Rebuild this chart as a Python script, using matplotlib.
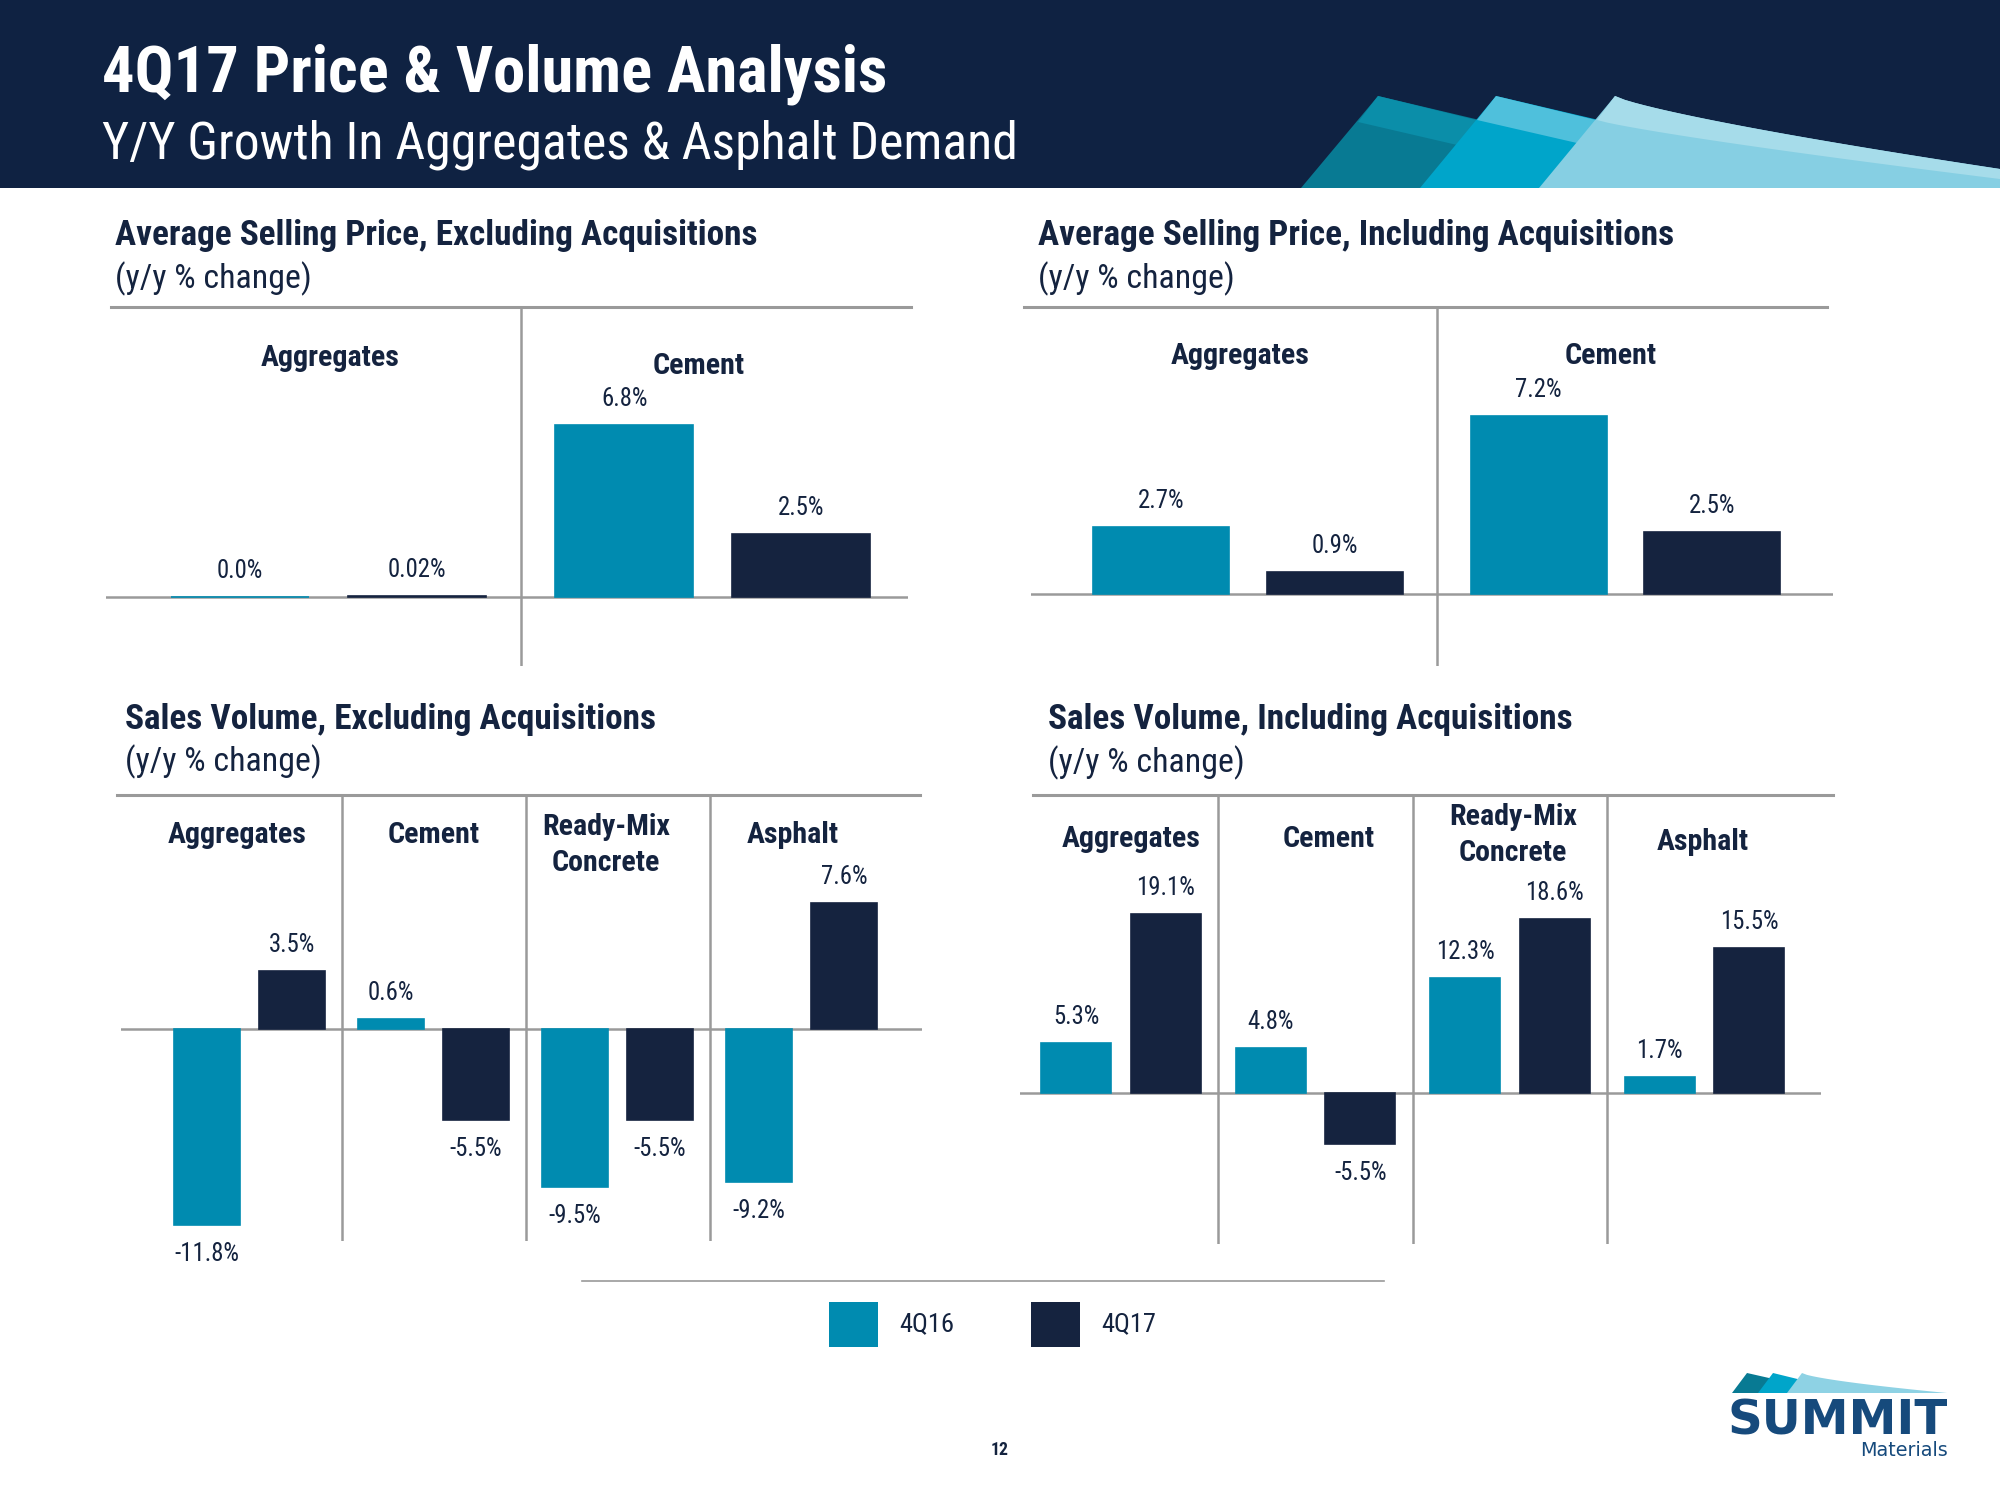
import matplotlib
matplotlib.use('Agg')
import numpy as np
import matplotlib.pyplot as plt
from matplotlib import font_manager
from matplotlib.patches import Polygon, Rectangle

# Dados do gráfico (variação a/a em %)
series = ['4Q16', '4Q17']

p1_cats = ['Aggregates', 'Cement']
p1_4q16 = [0.0, 6.8]
p1_4q17 = [0.02, 2.5]
p1_lbl_4q16 = ['0.0%', '6.8%']
p1_lbl_4q17 = ['0.02%', '2.5%']

p2_cats = ['Aggregates', 'Cement']
p2_4q16 = [2.7, 7.2]
p2_4q17 = [0.9, 2.5]
p2_lbl_4q16 = ['2.7%', '7.2%']
p2_lbl_4q17 = ['0.9%', '2.5%']

p3_cats = ['Aggregates', 'Cement', 'Ready-Mix\nConcrete', 'Asphalt']
p3_4q16 = [-11.8, 0.6, -9.5, -9.2]
p3_4q17 = [3.5, -5.5, -5.5, 7.6]
p3_lbl_4q16 = ['-11.8%', '0.6%', '-9.5%', '-9.2%']
p3_lbl_4q17 = ['3.5%', '-5.5%', '-5.5%', '7.6%']

p4_cats = ['Aggregates', 'Cement', 'Ready-Mix\nConcrete', 'Asphalt']
p4_4q16 = [5.3, 4.8, 12.3, 1.7]
p4_4q17 = [19.1, -5.5, 18.6, 15.5]
p4_lbl_4q16 = ['5.3%', '4.8%', '12.3%', '1.7%']
p4_lbl_4q17 = ['19.1%', '-5.5%', '18.6%', '15.5%']

# Cores
NAVY = '#0f2242'
TXT = '#14233f'
C16 = '#008bb0'
C17 = '#15233f'
GREY = '#9a9a9a'


# fonte estreita (com negrito) se existir, senao Liberation Sans (metrica Arial)
def wnum(w):
    return w if isinstance(w, int) else font_manager.weight_dict.get(w, 400)


fonts = font_manager.fontManager.ttflist
names = {f.name for f in fonts}
weights = {}
for f in fonts:
    if 'Narrow' in f.name or 'Condensed' in f.name:
        weights.setdefault(f.name, set()).add(wnum(f.weight))
prefer = ['Liberation Sans Narrow', 'Roboto Condensed', 'Open Sans Condensed', 'Noto Sans Condensed']
reg_ok = [n for n in prefer if n in weights] + sorted(n for n in weights if n not in prefer)
bold_ok = [n for n in reg_ok if any(w >= 600 for w in weights[n])]
base = 'Liberation Sans' if 'Liberation Sans' in names else 'DejaVu Sans'
FONT = reg_ok[0] if reg_ok else base
BFONT = bold_ok[0] if bold_ok else base
plt.rcParams['font.family'] = [FONT, 'DejaVu Sans']

W, H = 2000, 1500
fig = plt.figure(figsize=(20, 15), dpi=100)
fig.patch.set_facecolor('white')
renderer = fig.canvas.get_renderer()


def fit(s, target_px, weight='normal', family=None):
    # tamanho de fonte para a largura do texto da referencia
    fam = family or (BFONT if weight != 'normal' else FONT)
    t = fig.text(0, 0, s, fontsize=20, fontweight=weight, family=[fam, 'DejaVu Sans'])
    w = t.get_window_extent(renderer=renderer).width
    t.remove()
    return 20 * target_px / w


BOLD = dict(fontweight='bold', family=[BFONT, 'DejaVu Sans'])

# eixo de fundo em pixels (cabecalho, logo, legenda)
bg = fig.add_axes([0, 0, 1, 1], zorder=-1)
bg.set_xlim(0, W)
bg.set_ylim(H, 0)
bg.axis('off')


def fx(x):
    return x / W


def fy(y):
    return 1 - y / H


# Cabecalho
bg.add_patch(Rectangle((0, 0), W, 188, color=NAVY, lw=0))
curve_x = np.linspace(1615, 2000, 40)
curve_y = 96 + 73 * ((curve_x - 1615) / 385) ** 0.8
band_x = np.linspace(1597, 2000, 40)
band_y = 120 + 59 * ((band_x - 1597) / 403) ** 0.85
bg.add_patch(Polygon([(1301, 188), (1378, 96), (1560, 139), (1560, 188)], color='#087a93', lw=0))
bg.add_patch(Polygon([(1378, 96), (1358, 122), (1470, 148), (1480, 121)], color='#0b8ea9', lw=0))
bg.add_patch(Polygon([(1420, 188), (1496, 96), (1680, 139), (1680, 188)], color='#00a5ca', lw=0))
bg.add_patch(Polygon([(1496, 96), (1477, 120), (1590, 146), (1600, 121)], color='#4fc0dc', lw=0))
bg.add_patch(Polygon([(1539, 188), (1615, 96)] + list(zip(curve_x, curve_y)) + [(2000, 188)],
                     color='#86cfe3', lw=0))
bg.add_patch(Polygon([(1615, 96)] + list(zip(curve_x, curve_y)) + list(zip(band_x, band_y))[::-1],
                     color='#a6dcea', lw=0))

fig.text(fx(102), fy(74), '4Q17 Price & Volume Analysis', color='white',
         fontsize=fit('4Q17 Price & Volume Analysis', 784, 'bold'), va='center', ha='left', **BOLD)
fig.text(fx(102), fy(145), 'Y/Y Growth In Aggregates & Asphalt Demand', color='white',
         fontsize=fit('Y/Y Growth In Aggregates & Asphalt Demand', 915), va='center', ha='left')

TITLE_FS = fit('Average Selling Price, Excluding Acquisitions', 642, 'bold')
SUB_FS = fit('(y/y % change)', 196)
CAT_FS = fit('Aggregates', 138, 'bold')
VAL_FS = fit('-11.8%', 65)


def make_panel(box, title, cats, v16, v17, l16, l17, cat_x, cat_y):
    x0, x1, c0, pitch, ytop, ybot, base, scale, tx, ty, top_x = box
    ax = fig.add_axes([fx(x0), fy(ybot), (x1 - x0) / W, (ybot - ytop) / H])
    ax.set_xlim((x0 - c0) / pitch, (x1 - c0) / pitch)
    ax.set_ylim((base - ybot) / scale, (base - ytop) / scale)
    ax.axis('off')
    g = np.arange(len(cats))
    ax.bar(g - 0.23, v16, 0.36, color=C16, ec=C16, lw=1.2, zorder=4)
    ax.bar(g + 0.23, v17, 0.36, color=C17, ec=C17, lw=1.2, zorder=4)
    ax.axhline(0, color=GREY, lw=1.8, zorder=3)
    ax.plot([(top_x[0] - c0) / pitch, (top_x[1] - c0) / pitch], [(base - ytop) / scale] * 2,
            color=GREY, lw=2.2, clip_on=False, zorder=3)
    for d in range(len(cats) - 1):
        ax.axvline(d + 0.5, color=GREY, lw=1.8, zorder=1)
    for xs, vals, lbls in [(g - 0.23, v16, l16), (g + 0.23, v17, l17)]:
        for x, v, t in zip(xs, vals, lbls):
            off = 26 if v >= 0 else -29
            ax.annotate(t, (x, v), xytext=(0, off), textcoords='offset pixels',
                        ha='center', va='center', fontsize=VAL_FS, color=TXT)
    for i, c in enumerate(cats):
        ax.text((cat_x[i] - c0) / pitch, (base - cat_y[i]) / scale, c, ha='center', va='center',
                fontsize=CAT_FS, color=TXT, linespacing=1.4, **BOLD)
    fig.text(fx(tx), fy(ty), title, fontsize=TITLE_FS, color=TXT, va='center', **BOLD)
    fig.text(fx(tx), fy(ty + 43), '(y/y % change)', fontsize=SUB_FS, color=TXT, va='center')
    return ax


# caixas: x0, x1, centro grupo 0, passo, topo, base eixo, linha zero, px por %, titulo x, titulo y, linha topo
make_panel((106, 908, 328.5, 384, 307, 666, 597, 25.3, 115, 236, (111, 911)),
           'Average Selling Price, Excluding Acquisitions',
           p1_cats, p1_4q16, p1_4q17, p1_lbl_4q16, p1_lbl_4q17, [330, 699], [358, 366])
make_panel((1031, 1833, 1248, 377.5, 307, 666, 594, 24.7, 1038, 236, (1024, 1827)),
           'Average Selling Price, Including Acquisitions',
           p2_cats, p2_4q16, p2_4q17, p2_lbl_4q16, p2_lbl_4q17, [1240, 1611], [356, 356])
make_panel((121, 922, 249.5, 184, 795, 1241, 1029, 16.6, 125, 719, (117, 920)),
           'Sales Volume, Excluding Acquisitions',
           p3_cats, p3_4q16, p3_4q17, p3_lbl_4q16, p3_lbl_4q17,
           [237, 434, 606, 793], [835, 835, 845, 835])
make_panel((1020, 1821, 1121, 194.5, 795, 1244, 1093, 9.35, 1048, 720, (1033, 1833)),
           'Sales Volume, Including Acquisitions',
           p4_cats, p4_4q16, p4_4q17, p4_lbl_4q16, p4_lbl_4q17,
           [1131, 1329, 1513, 1703], [839, 839, 835, 842])

# Legenda
bg.plot([582, 1384], [1281, 1281], color=GREY, lw=1.2)
LEG_FS = fit('4Q16', 55)
for sx, col, name in [(829, C16, series[0]), (1031, C17, series[1])]:
    bg.add_patch(Rectangle((sx, 1302), 49, 45, color=col, lw=0))
    bg.text(sx + 70, 1324, name, fontsize=LEG_FS, color=TXT, va='center', ha='left')

# numero da pagina
fig.text(fx(1000), fy(1450), '12', fontsize=fit('12', 18, 'bold'), color=TXT,
         ha='center', va='center', **BOLD)

# Logo
lx = np.linspace(1802, 1947, 30)
ly = 1373 + 20 * ((lx - 1802) / 145) ** 0.7
bg.add_patch(Polygon([(1732, 1393), (1747, 1373), (1800, 1385), (1800, 1393)], color='#087a93', lw=0))
bg.add_patch(Polygon([(1758, 1393), (1773, 1373), (1830, 1387), (1830, 1393)], color='#00a5ca', lw=0))
bg.add_patch(Polygon([(1787, 1393)] + list(zip(lx, ly)), color='#8ed2e4', lw=0))
bg.text(1948, 1421, 'SUMMIT', fontsize=fit('SUMMIT', 220, 'heavy', 'DejaVu Sans'), fontweight='heavy',
        color='#164a7c', ha='right', va='center', family='DejaVu Sans')
bg.text(1948, 1450, 'Materials', fontsize=fit('Materials', 88, family='DejaVu Sans'), color='#164a7c',
        ha='right', va='center', family='DejaVu Sans')

fig.savefig('out.png', dpi=100)
